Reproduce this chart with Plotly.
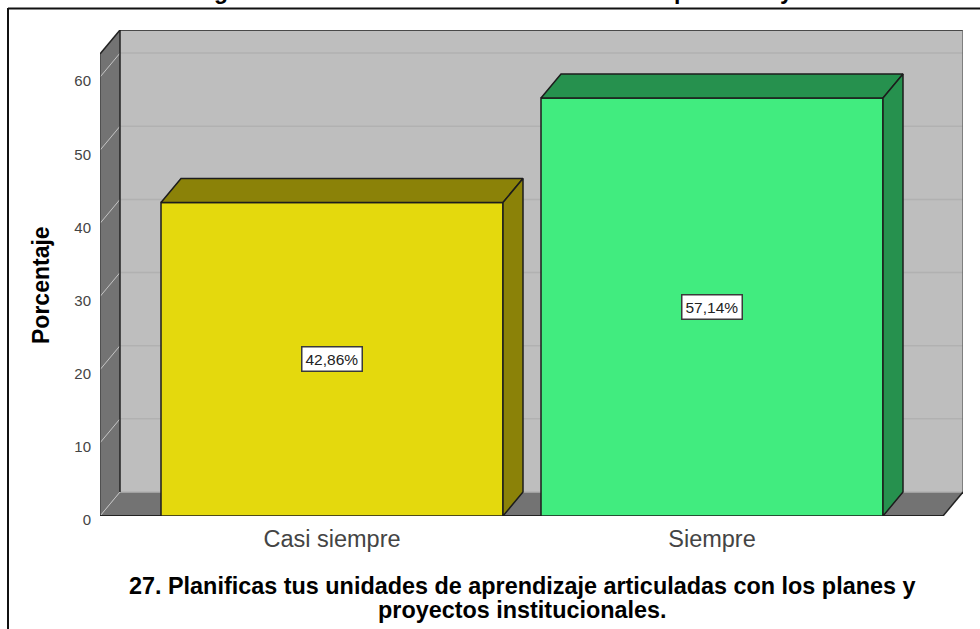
import plotly.graph_objects as go

categories = ["Casi siempre", "Siempre"]
values = [42.86, 57.14]
value_labels = ["42,86%", "57,14%"]
y_ticks = [0, 10, 20, 30, 40, 50, 60]
x_title_lines = ["27. Planificas tus unidades de aprendizaje articuladas con los planes y", "proyectos institucionales."]
y_title = "Porcentaje"
# the title above the frame is cut off by the page, only these letter tails show
cut_title_letters = [("g", 221), ("p", 681), ("y", 786)]

front_colors = ["#e4d90d", "#41ec7f"]
side_colors = ["#8b8208", "#26914e"]
wall_color = "#737373"
back_color = "#bebebe"
font = "Liberation Sans"

# plot area in the page, the back wall reaches its right and top edges
L, R, T, B = 100, 963, 30, 516
px_per_cat = 380
px_per_val = 7.315
x_min = -(332 - L) / px_per_cat
x_max = x_min + (R - L) / px_per_cat
y_max = (B - T) / px_per_val
dx = 20 / px_per_cat  # depth of the fake 3d box
dy = 24 / px_per_val
bar_w = 0.9


def poly(pts, fill="rgba(0,0,0,0)", line="rgba(0,0,0,0)", width=1):
    path = "M" + " L".join(f"{x},{y}" for x, y in pts) + " Z"
    return dict(type="path", path=path, fillcolor=fill, line=dict(color=line, width=width), layer="below")


def seg(x0, y0, x1, y1, color, width=1.5):
    return dict(type="line", x0=x0, y0=y0, x1=x1, y1=y1, line=dict(color=color, width=width), layer="below")


x_front_r = x_max - dx
x_back_l = x_min + dx

shapes = [
    poly([(x_back_l, dy), (x_max, dy), (x_max, y_max), (x_back_l, y_max)], fill=back_color),
    poly([(x_min, 0), (x_back_l, dy), (x_back_l, y_max), (x_min, y_max - dy)], fill=wall_color),
    poly([(x_min, 0), (x_front_r, 0), (x_max, dy), (x_back_l, dy)], fill=wall_color),
]
for v in y_ticks:
    shapes.append(seg(x_back_l, v + dy, x_max, v + dy, "#b1b1b1"))
    shapes.append(seg(x_min, v, x_back_l, v + dy, "#c4c4c4", 1))
shapes += [
    seg(x_back_l, y_max, x_max, y_max, "#222222"),
    seg(x_max, dy, x_max, y_max, "#6a6a6a"),
    seg(x_back_l, dy, x_back_l, y_max, "#222222"),
    seg(x_min, y_max - dy, x_back_l, y_max, "#222222"),
    seg(x_min, 0, x_min, y_max - dy, "#444444"),
    seg(x_front_r, 0, x_max, dy, "#222222"),
    seg(x_min, 0, x_front_r, 0, "#222222", 2),
]


# page pixels to paper coordinates, for the frame and the free text
def page_x(p):
    return (p - L) / (R - L)


def page_y(p):
    return (B - p) / (B - T)


for x0, y0, x1, y1 in [(8, 8.5, 980, 8.5), (8, 8, 8, 629)]:
    shapes.append(dict(type="line", xref="paper", yref="paper", x0=page_x(x0), y0=page_y(y0),
                       x1=page_x(x1), y1=page_y(y1), line=dict(color="#111111", width=2)))

fig = go.Figure()
fig.add_trace(go.Bar(x=[0, 1], y=values, width=bar_w, marker=dict(color=front_colors, line=dict(color="#1c1c1c", width=1.5))))

for i, v in enumerate(values):
    x0 = i - bar_w / 2
    x1 = i + bar_w / 2
    top_x = [x0, x0 + dx, x1 + dx, x1, x0]
    top_y = [v, v + dy, v + dy, v, v]
    side_x = [x1, x1 + dx, x1 + dx, x1, x1]
    side_y = [0, dy, v + dy, v, 0]
    for xs, ys in [(top_x, top_y), (side_x, side_y)]:
        fig.add_trace(go.Scatter(x=xs, y=ys, mode="lines", fill="toself", fillcolor=side_colors[i],
                                 line=dict(color="#1c1c1c", width=1.5)))

annotations = []
for i, v in enumerate(values):
    annotations.append(dict(x=i, y=v / 2, text=value_labels[i], showarrow=False, bgcolor="white",
                            bordercolor="#3a3a3a", borderwidth=1.5, borderpad=3,
                            font=dict(family=font, size=15.5, color="#222222")))

for line, py in zip(x_title_lines, [586, 610]):
    annotations.append(dict(xref="paper", yref="paper", x=page_x(522), y=page_y(py), xanchor="center", yanchor="middle",
                            text="<b>" + line + "</b>", showarrow=False,
                            font=dict(family=font, size=23.4, color="black")))

annotations.append(dict(xref="paper", yref="paper", x=page_x(41), y=page_y(285), textangle=-90,
                        xanchor="center", yanchor="middle",
                        text="<b>" + y_title + "</b>", showarrow=False,
                        font=dict(family=font, size=23, color="black")))

for letter, px in cut_title_letters:
    annotations.append(dict(xref="paper", yref="paper", x=page_x(px), y=page_y(-9), xanchor="center", yanchor="middle",
                            text="<b>" + letter + "</b>", showarrow=False,
                            font=dict(family=font, size=23, color="black")))

fig.update_layout(
    width=980, height=629, autosize=False,
    margin=dict(l=L, r=980 - R, t=T, b=629 - B, pad=0),
    paper_bgcolor="white", plot_bgcolor="white",
    showlegend=False, shapes=shapes, annotations=annotations,
    xaxis=dict(range=[x_min, x_max], tickvals=[0, 1], ticktext=categories, showgrid=False, zeroline=False,
               ticks="outside", ticklen=2, tickcolor="rgba(0,0,0,0)",
               tickfont=dict(family=font, size=23.5, color="#444444")),
    yaxis=dict(range=[0, y_max], tickvals=y_ticks, showgrid=False, zeroline=False,
               ticks="outside", ticklen=5, tickcolor="rgba(0,0,0,0)", ticklabelshift=4,
               tickfont=dict(family=font, size=15, color="#444444")),
)

fig.write_html("out.html", config=dict(displayModeBar=False), post_script="document.body.style.margin='0';")
